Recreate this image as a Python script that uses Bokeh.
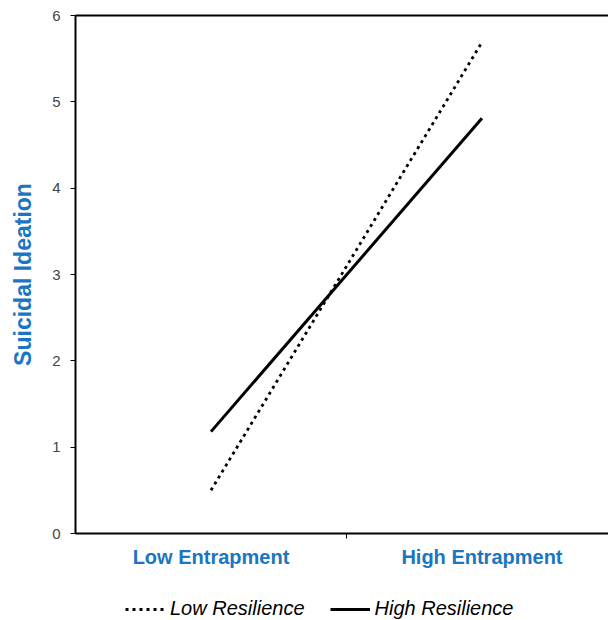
from bokeh.plotting import figure
from bokeh.models import Range1d, FixedTicker, LinearAxis, Legend, LegendItem
from bokeh.layouts import column
from bokeh.embed import file_html
from bokeh.resources import INLINE

categories = ["Low Entrapment", "High Entrapment"]
x_pos = [0, 1]
low_resilience = [0.5, 5.69]
high_resilience = [1.18, 4.81]
y_ticks = [0, 1, 2, 3, 4, 5, 6]
series_names = ["Low Resilience", "High Resilience"]

BLUE = "#1a75c2"
FONT = "Liberation Sans"
LOW_STYLE = dict(line_color="black", line_width=2.8, line_dash="3 4", line_cap="butt")
HIGH_STYLE = dict(line_color="black", line_width=3)

p = figure(width=608, height=570, output_backend="svg", toolbar_location=None,
           x_range=Range1d(-0.5, 1.467), y_range=Range1d(0, 6),
           min_border_left=75, min_border_right=0, min_border_top=15, min_border_bottom=36)
p.outline_line_color = None
p.xgrid.visible = False
p.ygrid.visible = False

p.line(x_pos, low_resilience, **LOW_STYLE)
p.line(x_pos, high_resilience, **HIGH_STYLE)

xa = p.xaxis[0]
xa.ticker = FixedTicker(ticks=x_pos, minor_ticks=[0.5])
xa.major_label_overrides = {i: c for i, c in zip(x_pos, categories)}
xa.major_tick_out = 0
xa.major_tick_in = 0
xa.minor_tick_out = 5
xa.minor_tick_in = 0
xa.minor_tick_line_width = 1
xa.axis_line_width = 2
xa.major_label_text_font = FONT
xa.major_label_text_font_style = "bold"
xa.major_label_text_font_size = "20px"
xa.major_label_text_color = BLUE
xa.major_label_standoff = 7

ya = p.yaxis[0]
ya.ticker = FixedTicker(ticks=y_ticks, minor_ticks=[])
ya.major_tick_out = 5
ya.major_tick_in = 0
ya.major_tick_line_width = 1
ya.axis_line_width = 2
ya.major_label_text_font = FONT
ya.major_label_text_font_size = "15px"
ya.major_label_standoff = 10
ya.axis_label = "Suicidal Ideation"
ya.axis_label_text_font = FONT
ya.axis_label_text_font_style = "bold"
ya.axis_label_text_font_size = "23px"
ya.axis_label_text_color = BLUE
ya.axis_label_standoff = 13

top = LinearAxis(ticker=FixedTicker(ticks=[]), axis_line_width=2,
                 major_tick_out=0, major_tick_in=0, minor_tick_out=0, minor_tick_in=0,
                 major_label_standoff=0, major_label_text_font_size="0px")
p.add_layout(top, "above")

# legend strip below the chart (its lines lie outside its visible range)
lg = figure(width=608, height=50, output_backend="svg", toolbar_location=None,
            x_range=Range1d(10, 11), y_range=Range1d(10, 11),
            min_border_left=0, min_border_right=0, min_border_top=0, min_border_bottom=0)
lg.axis.visible = False
lg.xgrid.visible = False
lg.ygrid.visible = False
lg.outline_line_color = None
r_low = lg.line(x_pos, low_resilience, **LOW_STYLE)
r_high = lg.line(x_pos, high_resilience, **HIGH_STYLE)

legend = Legend(items=[LegendItem(label=series_names[0], renderers=[r_low]),
                       LegendItem(label=series_names[1], renderers=[r_high])],
                orientation="horizontal", location=(50, 0),
                label_text_font=FONT, label_text_font_style="italic",
                label_text_font_size="20px", label_text_color="black",
                glyph_width=40, glyph_height=20,
                label_standoff=5, spacing=25, padding=0, margin=0,
                border_line_color=None, background_fill_alpha=0)
lg.add_layout(legend, "center")

open("out.html", "w").write(file_html(column(p, lg, spacing=0), INLINE))
